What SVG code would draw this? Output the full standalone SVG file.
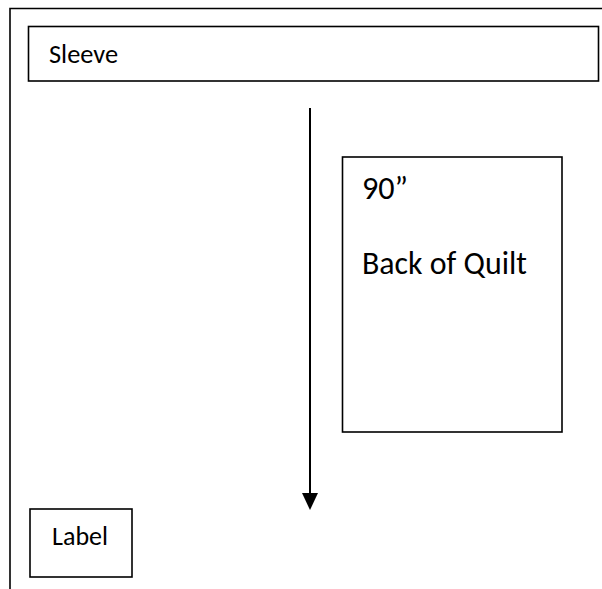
<svg xmlns="http://www.w3.org/2000/svg" width="602" height="589" viewBox="0 0 602 589">
<style>
.box{fill:#fff;stroke:#000;stroke-width:1.6}
.ln{stroke:#000;stroke-width:1.6;fill:none}
.t{font-family:Carlito,Lato,"Open Sans",sans-serif;fill:#000}
</style>
<rect width="602" height="589" fill="#fff"/>
<g id="frame">
<path class="ln" d="M10,589 V8.5 H602"/>
</g>
<g id="sleeve">
<rect class="box" x="28.5" y="26.5" width="570" height="54.5"/>
<text class="t" x="49" y="63" font-size="26" textLength="69" lengthAdjust="spacingAndGlyphs">Sleeve</text>
</g>
<g id="back">
<rect class="box" x="342.5" y="157" width="219.5" height="275"/>
<text class="t" x="362" y="199" font-size="33" textLength="46" lengthAdjust="spacingAndGlyphs">90”</text>
<text class="t" x="362" y="274" font-size="33" textLength="165" lengthAdjust="spacingAndGlyphs">Back of Quilt</text>
</g>
<g id="label">
<rect class="box" x="30" y="509" width="102" height="68"/>
<text class="t" x="52" y="545" font-size="26" textLength="56" lengthAdjust="spacingAndGlyphs">Label</text>
</g>
<g id="connectors">
<line x1="310" y1="108" x2="310" y2="494" stroke="#000" stroke-width="2"/>
<path d="M302,493 L318,493 L310,510 Z" fill="#000"/>
</g>
</svg>
